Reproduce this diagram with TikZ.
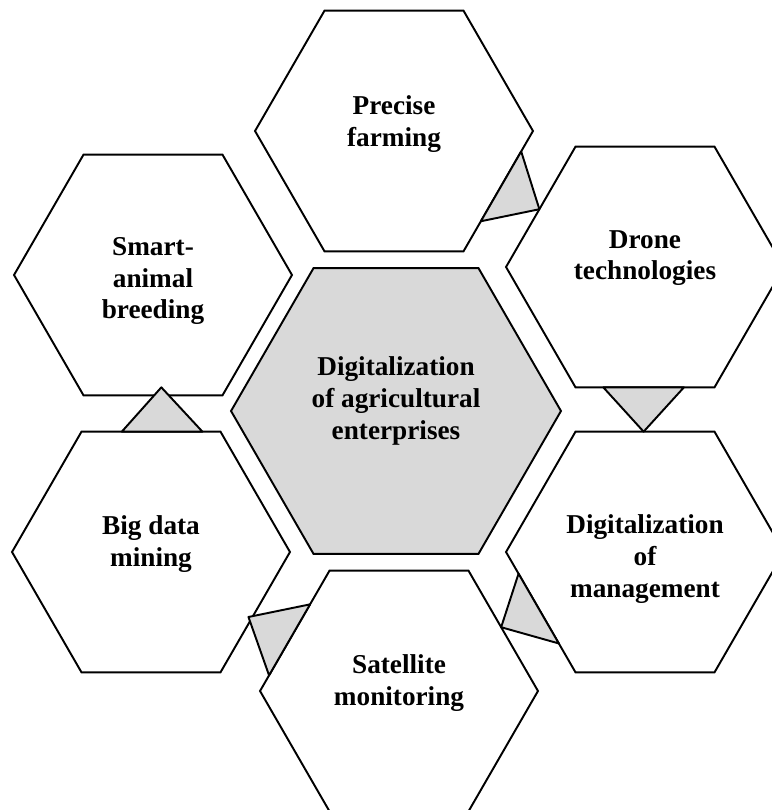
\documentclass[tikz,border=0pt]{standalone}
\usepackage{fontspec}
\setmainfont{Liberation Serif}
\usetikzlibrary{shapes.geometric,calc}
\begin{document}
\begin{tikzpicture}[x=0.02cm,y=0.02cm,
    hexa/.style = {draw, line width=1.1pt, regular polygon, regular polygon sides=6, minimum size=5.56cm, inner sep=0pt, outer sep=0pt},
    txt/.style = {align=center, font=\bfseries\fontsize{15.5}{18}\selectfont},
    tri/.style = {draw, line width=1.1pt, fill=gray!30, line join=round}]
    \useasboundingbox (0,0) rectangle (771,-810);
    \node[hexa, fill=gray!30, minimum size=6.6cm] (dae) at (396,-411) {};
    \node[hexa] (pf) at (394,-131) {};
    \node[hexa] (dt) at (645,-267) {};
    \node[hexa] (dm) at (645,-552) {};
    \node[hexa] (sm) at (399,-691) {};
    \node[hexa] (bd) at (151,-552) {};
    \node[hexa] (sa) at (153,-275) {};
    \node[txt] (daet) at ($(dae)+(0,10)$) {Digitalization\\of agricultural\\enterprises};
    \node[txt] (pft) at ($(pf)+(0,7)$) {Precise\\farming};
    \node[txt] (dtt) at ($(dt)+(0,9)$) {Drone\\technologies};
    \node[txt] (dmt) at ($(dm)+(0,-7)$) {Digitalization\\of\\management};
    \node[txt] (smt) at ($(sm)+(0,8)$) {Satellite\\monitoring};
    \node[txt] (bdt) at ($(bd)+(0,8)$) {Big data\\mining};
    \node[txt] (sat) at ($(sa)+(0,-6)$) {Smart-\\animal\\breeding};
    \draw[tri] ($(pf.0)!0.17!(pf.300)$) -- ($(dt.180)!0.48!(dt.120)$) -- ($(pf.0)!0.75!(pf.300)$) -- cycle;
    \draw[tri] ($(dt.240)!0.2!(dt.300)$) -- ($(dt.240)!0.78!(dt.300)$) -- ($(dm.120)!0.49!(dm.60)$) -- cycle;
    \draw[tri] ($(dm.180)!0.18!(dm.240)$) -- ($(dm.180)!0.76!(dm.240)$) -- ($(sm.60)!0.47!(sm.0)$) -- cycle;
    \draw[tri] ($(sm.120)!0.28!(sm.180)$) -- ($(sm.120)!0.87!(sm.180)$) -- ($(bd.0)!0.54!(bd.300)+(-4,0)$) -- cycle;
    \draw[tri] ($(bd.120)!0.29!(bd.60)$) -- ($(bd.120)!0.87!(bd.60)$) -- ($(sa.240)!0.56!(sa.300)+(0,8)$) -- cycle;
\end{tikzpicture}
\end{document}
